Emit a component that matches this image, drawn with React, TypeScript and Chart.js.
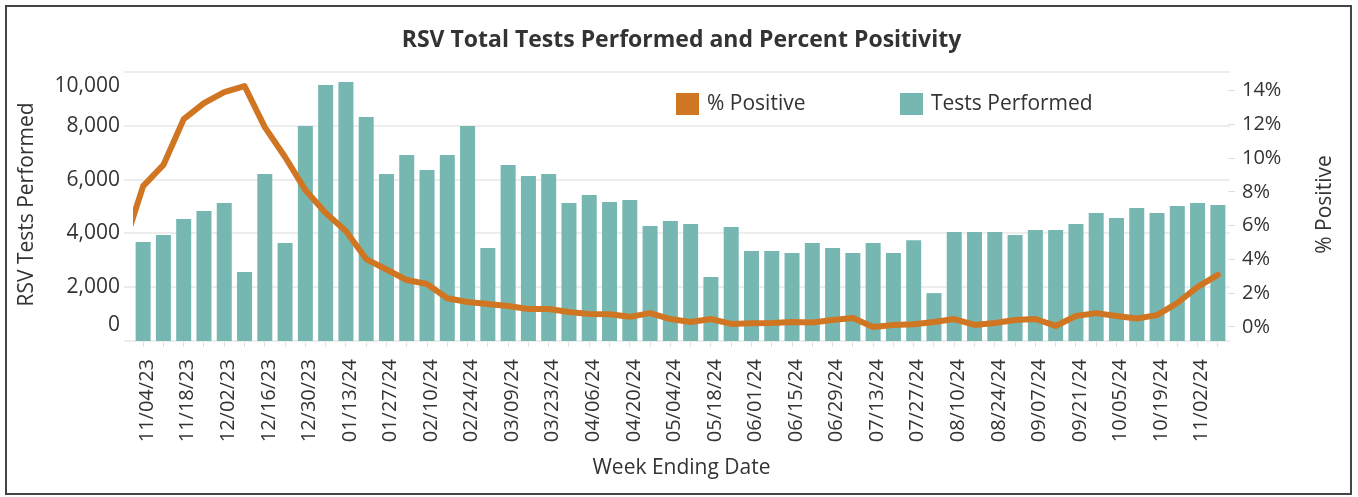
import React, { useEffect, useRef } from "react";
import { Chart, registerables } from "chart.js";

Chart.register(...registerables);

// ---------- DATA ----------
// First entry (10/28/23) lies just left of the visible range; only the line's lead-in shows.
const weeks: string[] = [
  "10/28/23",
  "11/04/23", "11/11/23", "11/18/23", "11/25/23", "12/02/23", "12/09/23", "12/16/23", "12/23/23",
  "12/30/23", "01/06/24", "01/13/24", "01/20/24", "01/27/24", "02/03/24", "02/10/24", "02/17/24",
  "02/24/24", "03/02/24", "03/09/24", "03/16/24", "03/23/24", "03/30/24", "04/06/24", "04/13/24",
  "04/20/24", "04/27/24", "05/04/24", "05/11/24", "05/18/24", "05/25/24", "06/01/24", "06/08/24",
  "06/15/24", "06/22/24", "06/29/24", "07/06/24", "07/13/24", "07/20/24", "07/27/24", "08/03/24",
  "08/10/24", "08/17/24", "08/24/24", "08/31/24", "09/07/24", "09/14/24", "09/21/24", "09/28/24",
  "10/05/24", "10/12/24", "10/19/24", "10/26/24", "11/02/24", "11/09/24",
];

const testsPerformed: (number | null)[] = [
  null,
  3680, 3940, 4535, 4830, 5130, 2565, 6210, 3640, 7990, 9520, 9630, 8330, 6210, 6910, 6360, 6910,
  7990, 3460, 6540, 6130, 6210, 5130, 5430, 5170, 5240, 4275, 4460, 4350, 2380, 4240, 3350, 3350,
  3270, 3640, 3460, 3270, 3640, 3270, 3750, 1780, 4050, 4050, 4050, 3940, 4130, 4130, 4350, 4760,
  4570, 4940, 4760, 5020, 5130, 5060,
];

const pctPositive: number[] = [
  4.6,
  8.34, 9.59, 12.3, 13.25, 13.9, 14.26, 11.83, 10.06, 8.1, 6.75, 5.68, 4.02, 3.4, 2.78, 2.54, 1.7,
  1.48, 1.36, 1.24, 1.06, 1.06, 0.89, 0.77, 0.75, 0.6, 0.82, 0.47, 0.3, 0.47, 0.18, 0.22, 0.24,
  0.3, 0.26, 0.41, 0.53, 0.0, 0.12, 0.16, 0.3, 0.47, 0.12, 0.24, 0.41, 0.47, 0.06, 0.65, 0.82,
  0.65, 0.5, 0.7, 1.42, 2.37, 3.08,
];

const leftTicks: number[] = [0, 2000, 4000, 6000, 8000, 10000];
const rightTicks: number[] = [0, 2, 4, 6, 8, 10, 12, 14];

const chartTitle = "RSV Total Tests Performed and Percent Positivity";
const leftTitle = "RSV Tests Performed";
const rightTitle = "% Positive";
const xTitle = "Week Ending Date";
const legendLine = "% Positive";
const legendBar = "Tests Performed";

// ---------- STYLE / LAYOUT ----------
const W = 1358;
const H = 497;
const AREA = { left: 133, right: 1228, top: 72, bottom: 341 };
const TEAL = "#76B7B2";
const ORANGE = "#D07623";
const TEXT = "#333333";
const FONT = "'Open Sans', 'DejaVu Sans', sans-serif";

const decorPlugin = {
  id: "decor",
  beforeDatasetsDraw(chart: any) {
    const { ctx, chartArea } = chart;
    const ys = chart.scales.y;
    ctx.save();
    ctx.strokeStyle = "#ededed";
    ctx.lineWidth = 2;
    leftTicks.forEach((v) => {
      const y = Math.round(ys.getPixelForValue(v));
      ctx.beginPath();
      ctx.moveTo(chartArea.left - 9, y);
      ctx.lineTo(chartArea.right + 2, y);
      ctx.stroke();
    });
    ctx.restore();
  },
  afterDraw(chart: any) {
    const { ctx, chartArea } = chart;
    const ys = chart.scales.y;
    ctx.save();
    ctx.fillStyle = TEXT;

    // left tick labels (clamped inside the plot like the original)
    ctx.font = `21px ${FONT}`;
    ctx.textAlign = "right";
    ctx.textBaseline = "middle";
    leftTicks.forEach((v) => {
      let y = ys.getPixelForValue(v);
      y = Math.min(Math.max(y, chartArea.top + 14), chartArea.bottom - 16);
      ctx.fillText(v.toLocaleString("en-US"), 120, y);
    });

    const midY = (chartArea.top + chartArea.bottom) / 2;
    const midX = (chartArea.left + chartArea.right) / 2;

    // chart title
    ctx.font = `bold 23px ${FONT}`;
    ctx.textAlign = "center";
    ctx.fillText(chartTitle, midX + 1, 40);

    // x title
    ctx.font = `21px ${FONT}`;
    ctx.fillText(xTitle, midX + 1, 468);

    // left axis title
    ctx.save();
    ctx.translate(27, midY - 2);
    ctx.rotate(-Math.PI / 2);
    ctx.fillText(leftTitle, 0, 0);
    ctx.restore();

    // right axis title
    ctx.save();
    ctx.translate(1325, midY - 2);
    ctx.rotate(-Math.PI / 2);
    ctx.fillText(rightTitle, 0, 0);
    ctx.restore();

    // legend
    ctx.font = `21px ${FONT}`;
    ctx.textAlign = "left";
    ctx.fillStyle = ORANGE;
    ctx.fillRect(676, 93, 23, 22);
    ctx.fillStyle = TEXT;
    ctx.fillText(legendLine, 707, 104.5);
    ctx.fillStyle = TEAL;
    ctx.fillRect(900, 93, 23, 22);
    ctx.fillStyle = TEXT;
    ctx.fillText(legendBar, 931, 104.5);

    ctx.restore();
  },
};

export default function App() {
  const canvasRef = useRef<HTMLCanvasElement | null>(null);

  useEffect(() => {
    if (!canvasRef.current) return;
    const chart = new Chart(canvasRef.current, {
      type: "bar",
      data: {
        labels: weeks,
        datasets: [
          {
            type: "line",
            label: legendLine,
            data: pctPositive,
            yAxisID: "y1",
            borderColor: ORANGE,
            backgroundColor: ORANGE,
            borderWidth: 6,
            pointRadius: 0,
            pointHoverRadius: 0,
            tension: 0,
            borderJoinStyle: "round",
            borderCapStyle: "round",
            order: 0,
          } as any,
          {
            type: "bar",
            label: legendBar,
            data: testsPerformed,
            yAxisID: "y",
            backgroundColor: TEAL,
            borderWidth: 0,
            barPercentage: 0.74,
            categoryPercentage: 1,
            order: 1,
          } as any,
        ],
      },
      options: {
        responsive: false,
        animation: false,
        devicePixelRatio: 1,
        layout: { padding: { top: AREA.top, left: 0, right: 0, bottom: 0 } },
        plugins: {
          legend: { display: false },
          title: { display: false },
          tooltip: { enabled: false },
        },
        scales: {
          x: {
            type: "category",
            min: weeks[1],
            offset: true,
            grid: {
              display: true,
              drawOnChartArea: false,
              drawTicks: true,
              tickLength: 6,
              color: "#e0e0e0",
              offset: false,
            },
            border: { display: false },
            ticks: {
              autoSkip: false,
              maxRotation: 90,
              minRotation: 90,
              padding: 12,
              labelOffset: 4,
              color: TEXT,
              font: { family: FONT, size: 20 },
              callback: (value: any) => {
                const i = Number(value);
                return (i - 1) % 2 === 0 ? weeks[i] : "";
              },
            },
            afterFit: (s: any) => {
              s.height = H - AREA.bottom;
            },
          },
          y: {
            position: "left",
            min: 0,
            max: 10000,
            grid: { display: false },
            border: { display: false },
            ticks: { display: false },
            afterFit: (s: any) => {
              s.width = AREA.left;
            },
          },
          y1: {
            position: "right",
            min: -0.83,
            max: 15.09,
            grid: {
              display: true,
              drawOnChartArea: false,
              drawTicks: true,
              tickLength: 7,
              color: "#dddddd",
            },
            border: { display: false },
            ticks: {
              padding: 7,
              color: TEXT,
              font: { family: FONT, size: 20 },
              callback: (v: any) => `${v}%`,
            },
            afterBuildTicks: (s: any) => {
              s.ticks = rightTicks.map((v) => ({ value: v }));
            },
            afterFit: (s: any) => {
              s.width = W - AREA.right;
            },
          },
        },
      } as any,
      plugins: [decorPlugin],
    });
    return () => chart.destroy();
  }, []);

  return (
    <div style={{ position: "fixed", left: 0, top: 0, width: W, height: H, background: "#fff" }}>
      <canvas ref={canvasRef} width={W} height={H} style={{ position: "absolute", left: 0, top: 0 }} />
      <div
        style={{
          position: "absolute",
          left: 5,
          top: 5,
          width: 1343,
          height: 486,
          border: "2px solid #444",
          pointerEvents: "none",
        }}
      />
    </div>
  );
}
